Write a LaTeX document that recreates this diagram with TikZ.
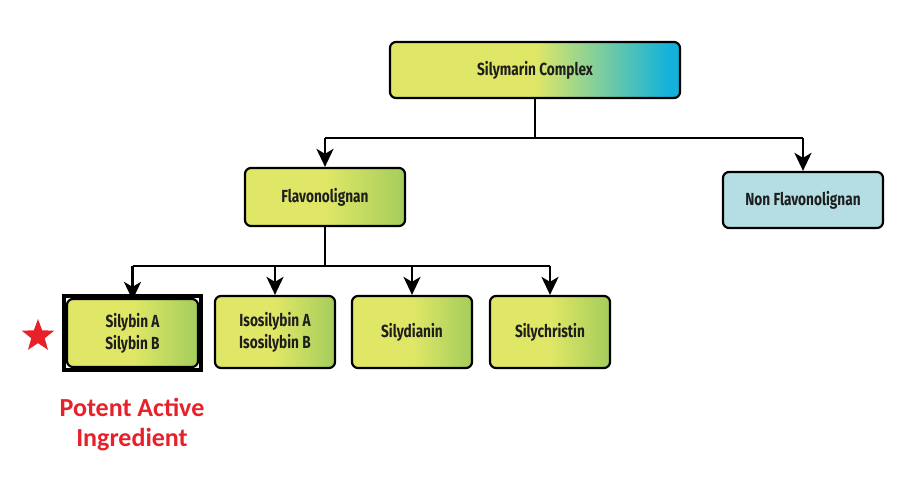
\documentclass[tikz,border=0pt]{standalone}
\usepackage{fontspec}
\usetikzlibrary{arrows.meta,shapes.geometric,calc}
\newfontfamily\boxfont[FakeStretch=0.78]{Fira Sans}
\newfontfamily\redfont{Carlito}
\definecolor{ylw}{HTML}{E0E766}
\definecolor{grn}{HTML}{A4CD5C}
\definecolor{cyn}{HTML}{14B2DA}
\definecolor{pale}{HTML}{B4DEE3}
\definecolor{txt}{HTML}{1E1E1E}
\definecolor{redtxt}{HTML}{E8202A}
\pgfdeclarehorizontalshading{ygshade}{100bp}{color(0bp)=(ylw); color(25bp)=(ylw); color(50bp)=(ylw); color(75bp)=(grn); color(100bp)=(grn)}
\pgfdeclarehorizontalshading{ycshade}{100bp}{color(0bp)=(ylw); color(25bp)=(ylw); color(50bp)=(ylw); color(73bp)=(cyn); color(100bp)=(cyn)}
\tikzset{
  box/.style={draw=black, line width=2.2pt, rounded corners=6pt, align=center,
    font=\boxfont\bfseries\fontsize{17.5}{22}\selectfont, text=txt, inner sep=2pt},
  ygbox/.style={box, shading=ygshade},
  ycbox/.style={box, shading=ycshade},
  conn/.style={line width=2.6pt, black},
  arr/.style={conn, -{Stealth[length=18pt,width=17pt,inset=5pt]}},
}
\begin{document}
\begin{tikzpicture}[x=1pt,y=-1pt]
\useasboundingbox (0,0) rectangle (900,500);
\fill[white] (0,0) rectangle (900,500);

\node[ycbox, minimum width=290pt, minimum height=56pt] (sc) at (535,70) {Silymarin Complex};
\node[ygbox, minimum width=160pt, minimum height=58pt] (fl) at (325,197) {Flavonolignan};
\node[box, fill=pale, minimum width=160pt, minimum height=56pt] (nf) at (803,200) {Non Flavonolignan};

\node[ygbox, minimum width=131pt, minimum height=68pt] (sb) at (132.5,333) {Silybin A\\Silybin B};
\draw[line width=4pt] ($(sb.north west)+(-2,-2)$) rectangle ($(sb.south east)+(2,2)$);
\node[ygbox, minimum width=120pt, minimum height=72pt] (is) at (275,332) {Isosilybin A\\Isosilybin B};
\node[ygbox, minimum width=120pt, minimum height=72pt] (sd) at (412,332) {Silydianin};
\node[ygbox, minimum width=120pt, minimum height=72pt] (sy) at (550,332) {Silychristin};

\draw[conn] (sc.south) -- ++(0,39) coordinate (j1);
\draw[conn] (j1 -| fl.north) -- (j1 -| nf.north);
\draw[arr] (j1 -| fl.north) -- (fl.north);
\draw[arr] (j1 -| nf.north) -- (nf.north);

\draw[conn] (fl.south) -- ++(0,39) coordinate (j2);
\draw[conn] (j2 -| sb.north) -- (j2 -| sy.north);
\draw[arr] (j2 -| sb.north) -- ([yshift=-2pt]sb.north);
\draw[arr] (j2 -| is.north) -- (is.north);
\draw[arr] (j2 -| sd.north) -- (sd.north);
\draw[arr] (j2 -| sy.north) -- (sy.north);

\node[star, star points=5, star point ratio=2.4, fill=redtxt, minimum size=34pt, inner sep=0pt] (st) at (38,336) {};
\node[font=\redfont\bfseries\fontsize{26}{30}\selectfont, text=redtxt, align=center] (pa) at (132,425) {Potent Active\\Ingredient};
\end{tikzpicture}
\end{document}
